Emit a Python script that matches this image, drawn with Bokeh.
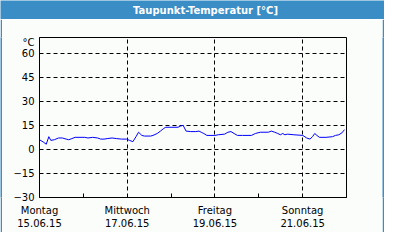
import pandas as pd
from bokeh.plotting import figure
from bokeh.layouts import column, row
from bokeh.models import FixedTicker, Range1d
from bokeh.core.properties import value
from bokeh.embed import file_html
from bokeh.resources import INLINE

# hours since Monday 15.06.15 00:00
hours = [0, 2.3, 3.7, 5.1, 6.2, 8.1, 10.4, 12.5, 14.6, 16.0, 17.7, 19.5, 24.8, 26.5,
         29.1, 31.8, 33.5, 35.3, 37.0, 39.7, 42.3, 44.9, 47.6, 49.3, 51.1, 52.8, 54.2,
         56.0, 57.4, 60.9, 62.1, 64.4, 66.2, 67.9, 69.1, 75.8, 77.3, 78.6, 80.2, 82.8,
         85.5, 87.3, 88.5, 89.9, 91.6, 96.0, 97.8, 101.3, 103.1, 104.8, 106.5, 108.3,
         111.1, 116.0, 118.1, 120.8, 125.2, 126.9, 128.7, 130.4, 131.8, 133.1, 134.3,
         135.7, 139.2, 144.1, 146.2, 148.0, 149.4, 150.6, 151.8, 153.2, 156.8, 160.3,
         162.0, 163.8, 165.5, 166.9]
dew = [6.1, 4.5, 3.3, 8.0, 5.7, 6.1, 7.2, 7.2, 6.5, 6.1, 6.8, 7.6, 7.6, 7.2,
       7.6, 7.2, 6.5, 6.5, 6.8, 7.2, 6.8, 6.5, 6.5, 5.7, 4.9, 8.0, 10.8,
       8.8, 8.4, 8.4, 8.8, 10.0, 11.5, 13.1, 13.9, 13.9, 14.7, 15.1, 11.5, 11.2,
       11.2, 11.5, 10.8, 10.0, 8.8, 8.8, 9.2, 9.6, 10.8, 11.2, 10.0, 8.8,
       8.8, 8.8, 10.0, 10.8, 10.8, 11.5, 10.8, 10.0, 9.2, 10.0, 9.2,
       9.6, 9.2, 8.8, 7.2, 6.5, 8.0, 10.0, 8.8, 7.6, 7.6, 8.0,
       8.8, 9.2, 10.4, 12.4]

tick_hours = [0, 48, 96, 144]
day_names = ["Montag", "Mittwoch", "Freitag", "Sonntag"]
day_dates = ["15.06.15", "17.06.15", "19.06.15", "21.06.15"]
minor_hours = [24, 72, 120, 168]
y_ticks = [-30, -15, 0, 15, 30, 45, 60]
unit_pos = 67
unit_text = "°C"
title_text = ["Taupunkt-Temperatur [°C]"]

BG = "#fbfdfb"
BLUE = "#3a8dc5"
FONT = "DejaVu Sans"


def strip(w, h):
    s = figure(width=w, height=h, output_backend="svg", toolbar_location=None,
               x_axis_location=None, y_axis_location=None, min_border=0,
               background_fill_color=BLUE, border_fill_color=BLUE)
    s.outline_line_color = None
    s.xgrid.visible = False
    s.ygrid.visible = False
    return s


# title bar
tb = figure(width=384, height=19, output_backend="svg", toolbar_location=None,
            x_range=Range1d(0, 384), y_range=Range1d(0, 19),
            x_axis_location=None, y_axis_location=None,
            min_border=0, background_fill_color=BLUE, border_fill_color=BLUE)
tb.outline_line_color = None
tb.xgrid.visible = False
tb.ygrid.visible = False
tb.text(x=[205], y=[9.5], text=title_text, text_align="center", text_baseline="middle",
        text_font=value(FONT), text_font_size="10px", text_font_style="bold",
        text_color="white")

# main chart
p = figure(width=380, height=213, output_backend="svg", toolbar_location=None,
           x_range=Range1d(0, 168), y_range=Range1d(-30, 70),
           min_border_left=37, min_border_right=36, min_border_top=18, min_border_bottom=35,
           background_fill_color=BG, border_fill_color=BG)
p.outline_line_color = "black"
p.outline_line_width = 1

p.line(hours, dew, line_color="#0000ff", line_width=1)

xa = p.xaxis[0]
xa.ticker = FixedTicker(ticks=tick_hours, minor_ticks=minor_hours)
xa.major_label_overrides = {h: f"{n}\n{d}" for h, n, d in zip(tick_hours, day_names, day_dates)}
xa.major_tick_in = 0
xa.major_tick_out = 0
xa.minor_tick_in = 4
xa.minor_tick_out = 0
xa.minor_tick_line_color = "black"
xa.axis_line_color = "black"
xa.major_label_standoff = 7
xa.major_label_text_font = FONT
xa.major_label_text_font_size = "10px"
xa.major_label_text_color = "black"

ya = p.yaxis[0]
ya.ticker = FixedTicker(ticks=y_ticks + [unit_pos])
ya.major_label_overrides = {unit_pos: unit_text}
ya.major_tick_in = 0
ya.major_tick_out = 0
ya.minor_tick_in = 0
ya.minor_tick_out = 0
ya.axis_line_color = "black"
ya.major_label_standoff = 5
ya.major_label_text_font = FONT
ya.major_label_text_font_size = "10px"
ya.major_label_text_color = "black"

p.xgrid[0].ticker = FixedTicker(ticks=tick_hours)
p.ygrid[0].ticker = FixedTicker(ticks=y_ticks)
for g in (p.xgrid[0], p.ygrid[0]):
    g.grid_line_color = "black"
    g.grid_line_dash = "4 3"
    g.grid_line_width = 1

body = row(strip(2, 213), p, strip(2, 213), spacing=0)
layout = column(tb, body, strip(384, 2), spacing=0)
open("out.html", "w").write(file_html(layout, INLINE))
